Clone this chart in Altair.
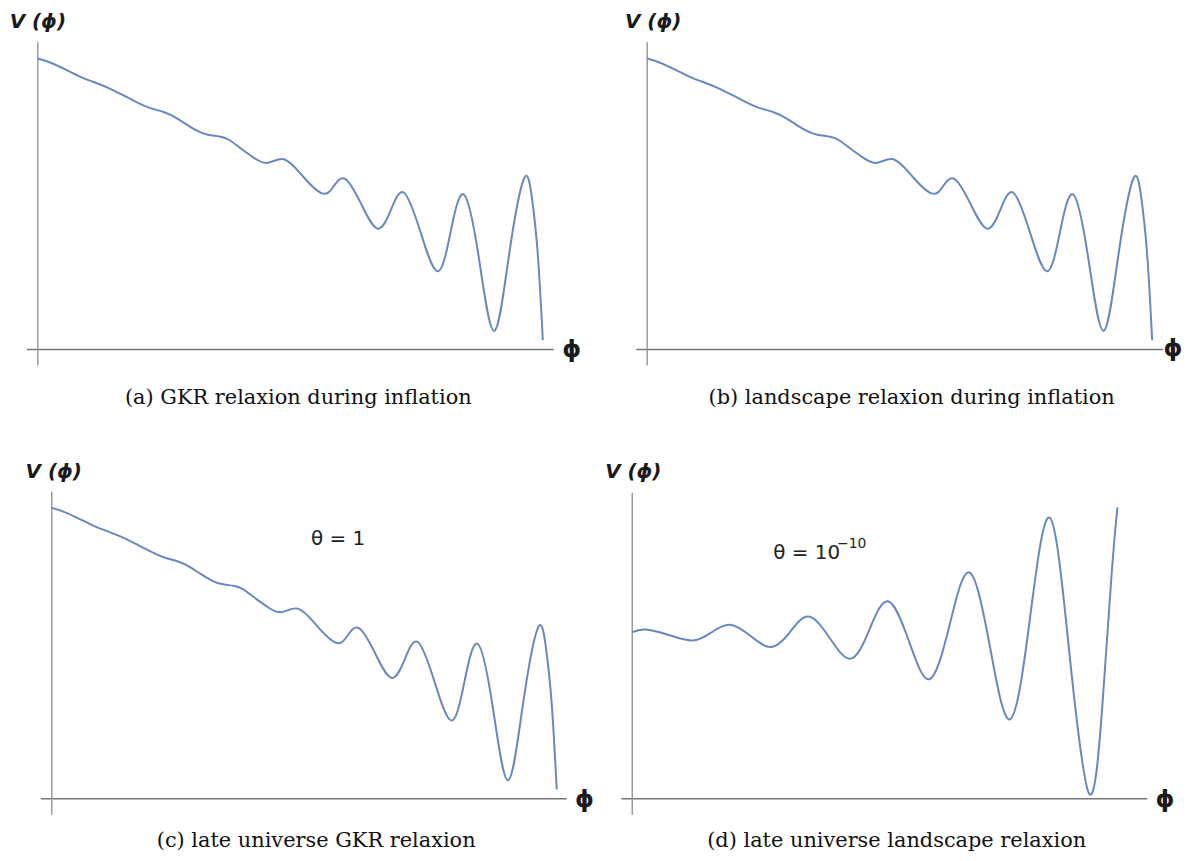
import altair as alt
import pandas as pd

# ---- curves (pixel-like units: phi from the V axis, V above the phi axis)
# panels (a), (b), (c): GKR / landscape relaxion during inflation, late universe GKR (theta = 1)
phi_inflation = [0, 12.3, 27.6, 42.9, 58.2, 73.5, 88.8, 100.3, 111.8, 127.1, 138.6, 150.1,
                 161.6, 171.1, 182.6, 192.2, 203.7, 215.2, 230.5, 247.7, 266.8, 286.0,
                 297.5, 309.0, 325.0, 341.5, 355.0, 368.3, 385.0, 402.0, 415.0, 428.4,
                 443.7, 459.0, 474.0, 488.9, 497.0, 503.0, 508.0]
V_inflation = [292.7, 288.7, 281.7, 274.3, 268.3, 262.0, 254.3, 248.3, 243.3, 238.7, 233.3, 226.0,
               219.3, 216.0, 214.3, 211.0, 202.7, 194.3, 187.7, 191.3, 174.0, 157.0,
               164.0, 171.7, 147.0, 121.7, 140.0, 157.7, 118.0, 78.7, 117.0, 156.0,
               92.0, 18.7, 95.0, 171.5, 153.0, 95.0, 9.3]

# panel (d): late universe landscape relaxion (theta = 1e-10)
phi_late = [0, 13.2, 36.7, 60.3, 79.0, 98.0, 118.7, 139.4, 158.0, 177.1, 198.4, 219.7,
            238.5, 257.3, 278.0, 298.8, 319.0, 339.1, 359.6, 380.2, 400.0, 420.1,
            440.0, 459.7, 472.9, 482.3, 488.0]
V_late = [167.7, 170.3, 164.8, 159.3, 167.0, 175.0, 164.0, 152.7, 167.0, 183.3, 162.0, 141.0,
          170.0, 198.7, 159.5, 120.3, 174.0, 227.7, 154.0, 80.0, 181.0, 282.7,
          144.0, 5.0, 94.3, 227.7, 293.3]

captions = ["(a) GKR relaxion during inflation",
            "(b) landscape relaxion during inflation",
            "(c) late universe GKR relaxion",
            "(d) late universe landscape relaxion"]

CURVE = "#6888c0"
SERIF = "DejaVu Serif"
SANS = "DejaVu Sans"


def panel(phi, V, caption, w, h, ox, oy, xaxis, yaxis, vlab, philab, cap, extras=()):
    df = pd.DataFrame({"phi": phi, "V": V})
    xs = alt.Scale(domain=[-ox, w - ox], nice=False, zero=False)
    ys = alt.Scale(domain=[oy - h, oy], nice=False, zero=False)
    curve = alt.Chart(df).mark_line(
        color=CURVE, strokeWidth=2, interpolate="natural"
    ).encode(
        x=alt.X("phi:Q", scale=xs, axis=None),
        y=alt.Y("V:Q", scale=ys, axis=None),
    )
    xaxis_df = pd.DataFrame({"xa": [xaxis[0]], "xb": [xaxis[1]], "ya": [0.0]})
    yaxis_df = pd.DataFrame({"xa": [0.0], "ya": [yaxis[0]], "yb": [yaxis[1]]})
    xrule = alt.Chart(xaxis_df).mark_rule(strokeWidth=1.5, color="#777777").encode(
        x=alt.X("xa:Q", scale=xs, axis=None), x2="xb", y=alt.Y("ya:Q", scale=ys, axis=None))
    yrule = alt.Chart(yaxis_df).mark_rule(strokeWidth=1.5, color="#9a9a9a").encode(
        x=alt.X("xa:Q", scale=xs, axis=None), y=alt.Y("ya:Q", scale=ys, axis=None), y2="yb")

    def txt(s, pos, size, font, weight="normal", color="#1a1a1a", align="center", style="normal"):
        return alt.Chart(pd.DataFrame({"t": [s]})).mark_text(
            fontSize=size, font=font, fontWeight=weight, color=color, fontStyle=style,
            align=align, baseline="middle", x=pos[0], y=pos[1]
        ).encode(text="t:N")

    layers = [xrule, yrule, curve,
              txt("V (ϕ)", vlab, 20, SANS, "bold", "#1a1a1a", "center", "italic"),
              txt("ϕ", philab, 24, SANS, "bold"),
              txt(caption, cap, 21, SERIF, "normal", "#111111")]
    for e in extras:
        layers.append(txt(*e))
    return alt.layer(*layers).properties(width=w, height=h)


pa = panel(phi_inflation, V_inflation, captions[0], 600, 430, 30, 341,
           (-11, 519), (-16, 309), (30, 12), (567, 342), (292, 390))
pb = panel(phi_inflation, V_inflation, captions[1], 575, 430, 39, 341,
           (-11, 519), (-16, 309), (45, 12), (568, 341), (305, 390))
pc = panel(phi_inflation, V_inflation, captions[2], 600, 415, 44, 363,
           (-11, 518), (-16, 309), (46, 34), (580, 364), (310, 405),
           extras=[("θ = 1", (332, 102), 20, SANS, "normal", "#222222")])
pd_ = panel(phi_late, V_late, captions[3], 575, 415, 24, 363,
            (-11, 518), (-16, 308), (25, 34), (560, 364), (290, 405),
            extras=[("θ = 10", (233, 116), 20, SANS, "normal", "#222222", "right"),
                    ("−10", (230, 107), 14, SANS, "normal", "#222222", "left")])

chart = alt.concat(pa, pb, pc, pd_, columns=2, spacing=0).properties(
    padding=0
).configure_view(strokeWidth=0)

chart.save("out.html", embed_options={"renderer": "svg", "actions": False})
